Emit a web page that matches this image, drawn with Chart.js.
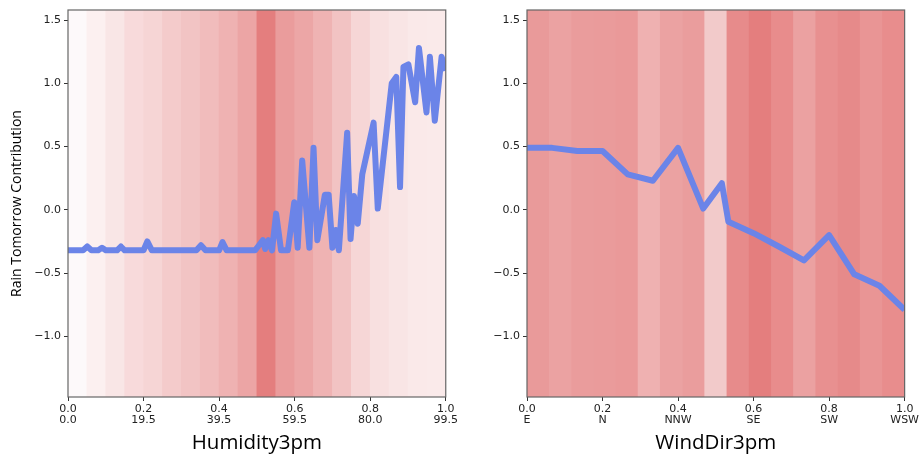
<!DOCTYPE html>
<html>
<head>
<meta charset="utf-8">
<script src="https://cdn.jsdelivr.net/npm/chart.js@4.4.1/dist/chart.umd.min.js"></script>
<style>
  html, body { margin: 0; padding: 0; background: #fff; }
  .wrap { position: absolute; top: 0; }
</style>
</head>
<body>
<div class="wrap" style="left:0"><canvas id="hum" width="460" height="458"></canvas></div>
<div class="wrap" style="left:460px"><canvas id="wind" width="461" height="458"></canvas></div>
<script>
// Humidity3pm: contribution curve (normalised x) and tick labels
const humX = [0, 0.04, 0.051, 0.062, 0.08, 0.09, 0.10, 0.13, 0.14, 0.15, 0.20, 0.21, 0.222,
  0.34, 0.352, 0.364, 0.40, 0.409, 0.42, 0.495, 0.503, 0.516, 0.522, 0.531, 0.54, 0.551,
  0.564, 0.582, 0.599, 0.608, 0.62, 0.639, 0.65, 0.66, 0.68, 0.69, 0.70, 0.709, 0.717,
  0.739, 0.748, 0.757, 0.767, 0.779, 0.809, 0.82, 0.857, 0.869, 0.879, 0.888, 0.901,
  0.919, 0.929, 0.949, 0.958, 0.971, 0.989, 1.0];
const humY = [-0.32, -0.32, -0.29, -0.32, -0.32, -0.30, -0.32, -0.32, -0.29, -0.32, -0.32, -0.25, -0.32,
  -0.32, -0.28, -0.32, -0.32, -0.255, -0.32, -0.32, -0.29, -0.24, -0.31, -0.24, -0.32, -0.03,
  -0.32, -0.32, 0.06, -0.30, 0.39, -0.30, 0.49, -0.24, 0.12, 0.12, -0.30, -0.16, -0.32,
  0.61, -0.23, 0.11, -0.11, 0.28, 0.69, 0.01, 1.0, 1.05, 0.18, 1.13, 1.15,
  0.85, 1.28, 0.77, 1.21, 0.705, 1.21, 1.10];
const humTicks = ['0.0', '19.5', '39.5', '59.5', '80.0', '99.5'];
const humBands = ['#fdf9fa', '#fcf0f0', '#f9e6e6', '#f8dadb', '#f6d5d5', '#f4cbcb', '#f2c4c4',
  '#f1bcbc', '#efb2b2', '#eca5a5', '#e47e7e', '#ea9c9c', '#eca6a6', '#efb3b3', '#f2c3c3',
  '#f6d6d6', '#f8e0e0', '#f9e5e5', '#fae9e9', '#faeaea'];

// WindDir3pm
const windX = [0, 0.0667, 0.1333, 0.2, 0.2667, 0.3333, 0.4, 0.4667, 0.516, 0.5333,
  0.6, 0.6667, 0.7333, 0.8, 0.8667, 0.9333, 1.0];
const windY = [0.49, 0.49, 0.465, 0.465, 0.28, 0.23, 0.49, 0.01, 0.21, -0.095,
  -0.185, -0.29, -0.40, -0.20, -0.51, -0.60, -0.79];
const windTicks = ['E', 'N', 'NNW', 'SE', 'SW', 'WSW'];
const windBands = ['#e99a9a', '#eba2a2', '#ea9c9c', '#ea9b9b', '#ea9999', '#efb1b1', '#eba2a2',
  '#ea9d9d', '#f2caca', '#e78b8b', '#e47e7e', '#e88c8c', '#eba1a1', '#e89090', '#e68a8a',
  '#e99595', '#e88d8d'];

const Y_MIN = -1.48;
const Y_MAX = 1.58;
const LINE = '#6b84e8';
const TICK_FONT = { family: 'DejaVu Sans', size: 11, lineHeight: 1.05 };

const fmt = v => (Math.abs(v) < 1e-9 ? '0.0' : v.toFixed(1).replace('-', '\u2212'));

const frame = {
  id: 'frame',
  afterDatasetsDraw(chart) {
    const { ctx, chartArea: a } = chart;
    ctx.save();
    ctx.strokeStyle = '#666';
    ctx.lineWidth = 1.2;
    ctx.strokeRect(a.left, a.top, a.right - a.left, a.bottom - a.top);
    ctx.restore();
  },
};

function drawPanel(id, o) {
  return new Chart(document.getElementById(id), {
    type: 'scatter',
    data: {
      labels: o.bands.map((_, i) => i),
      datasets: [
        {
          type: 'line',
          data: o.xs.map((x, i) => ({ x, y: o.ys[i] })),
          xAxisID: 'x', yAxisID: 'y',
          borderColor: LINE, borderWidth: 6, borderJoinStyle: 'round',
          pointRadius: 0, tension: 0, fill: false, clip: 0, order: 1,
        },
        {
          type: 'bar',
          data: o.bands.map(() => [Y_MIN, Y_MAX]),
          xAxisID: 'xb', yAxisID: 'y',
          backgroundColor: o.bands, borderWidth: 0, grouped: false,
          barPercentage: 1, categoryPercentage: 1, order: 2,
        },
      ],
    },
    options: {
      responsive: false,
      animation: false,
      devicePixelRatio: 1,
      layout: { padding: o.padding },
      plugins: { legend: { display: false }, tooltip: { enabled: false } },
      scales: {
        x: {
          type: 'linear', min: 0, max: 1, offset: false,
          grid: { drawOnChartArea: false, tickLength: 4, color: '#333' },
          border: { display: false },
          ticks: {
            stepSize: 0.2, maxRotation: 0, autoSkip: false, padding: 2,
            color: '#222', font: TICK_FONT,
            callback: (v, i) => [v.toFixed(1), o.ticks[i]],
          },
          title: {
            display: true, text: o.title, color: '#000',
            font: { family: 'Open Sans', size: 20.5 },
            padding: { top: 0, bottom: 2.4 },
          },
          afterFit: s => { s.height = 61; },
        },
        xb: { type: 'category', display: false, offset: true },
        y: {
          min: Y_MIN, max: Y_MAX,
          grid: { drawOnChartArea: false, tickLength: 4, color: '#333' },
          border: { display: false },
          ticks: { stepSize: 0.5, includeBounds: false, color: '#222', font: TICK_FONT, callback: v => fmt(v) },
          title: {
            display: !!o.yTitle, text: o.yTitle || '', color: '#000',
            font: { family: 'Open Sans', size: 14 },
            padding: { top: 9, bottom: 0 },
          },
          afterFit: s => { s.width = o.yWidth; },
        },
      },
    },
    plugins: [frame],
  });
}

drawPanel('hum', {
  xs: humX, ys: humY, ticks: humTicks, bands: humBands,
  title: 'Humidity3pm', yTitle: 'Rain Tomorrow Contribution',
  yWidth: 68, padding: { top: 10, right: 11, bottom: 0, left: 0 },
});
drawPanel('wind', {
  xs: windX, ys: windY, ticks: windTicks, bands: windBands,
  title: 'WindDir3pm', yTitle: null,
  yWidth: 67, padding: { top: 10, right: 13, bottom: 0, left: 0 },
});
</script>
</body>
</html>
